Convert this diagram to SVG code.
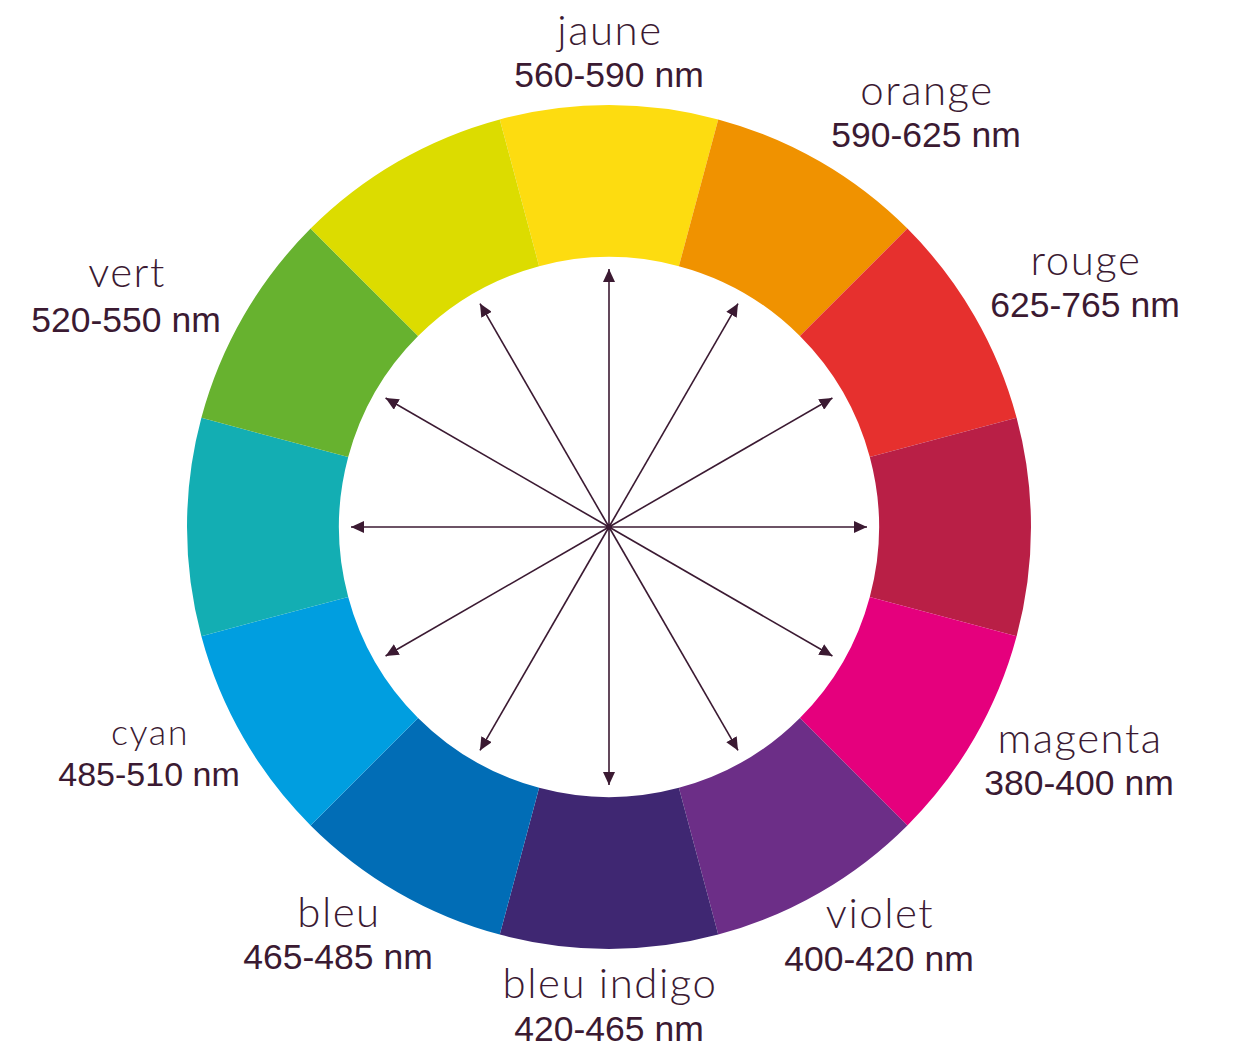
<svg xmlns="http://www.w3.org/2000/svg" width="1239" height="1055" viewBox="0 0 1239 1055">
<defs>
<style>
.seg{stroke:none}
.nm{font-family:Lato,"Open Sans","Liberation Sans",sans-serif;font-weight:300;font-size:42px;letter-spacing:1.5px;fill:#3b1a32;text-anchor:middle}
.wl{font-family:"Liberation Sans",Arial,sans-serif;font-weight:400;font-size:35.5px;fill:#3b1a32;text-anchor:middle}
.arr{stroke:#3b1a32;stroke-width:1.6;fill:none;marker-end:url(#ah)}
</style>
<marker id="ah" markerUnits="userSpaceOnUse" markerWidth="14" markerHeight="12" refX="13" refY="6" orient="auto">
<path d="M0,0 L13,6 L0,12 Z" fill="#3b1a32"/>
</marker>
</defs>
<rect width="1239" height="1055" fill="#ffffff"/>
<g id="jaune"><path class="seg" fill="#FDDC10" d="M499.78,119.38 A422,422 0 0 1 718.22,119.38 L678.88,266.20 A270,270 0 0 0 539.12,266.20 Z"/><text class="nm" x="610" y="45">jaune</text><text class="wl" x="609" y="87">560-590 nm</text></g>
<g id="orange"><path class="seg" fill="#F09200" d="M718.22,119.38 A422,422 0 0 1 907.40,228.60 L799.92,336.08 A270,270 0 0 0 678.88,266.20 Z"/><text class="nm" x="927" y="105">orange</text><text class="wl" x="926" y="147">590-625 nm</text></g>
<g id="rouge"><path class="seg" fill="#E6302E" d="M907.40,228.60 A422,422 0 0 1 1016.62,417.78 L869.80,457.12 A270,270 0 0 0 799.92,336.08 Z"/><text class="nm" x="1086" y="275">rouge</text><text class="wl" x="1085" y="317">625-765 nm</text></g>
<g id="carmin"><path class="seg" fill="#B91F46" d="M1016.62,417.78 A422,422 0 0 1 1016.62,636.22 L869.80,596.88 A270,270 0 0 0 869.80,457.12 Z"/></g>
<g id="magenta"><path class="seg" fill="#E5007D" d="M1016.62,636.22 A422,422 0 0 1 907.40,825.40 L799.92,717.92 A270,270 0 0 0 869.80,596.88 Z"/><text class="nm" x="1080" y="753">magenta</text><text class="wl" x="1079" y="795">380-400 nm</text></g>
<g id="violet"><path class="seg" fill="#6C2E87" d="M907.40,825.40 A422,422 0 0 1 718.22,934.62 L678.88,787.80 A270,270 0 0 0 799.92,717.92 Z"/><text class="nm" x="880" y="928">violet</text><text class="wl" x="879" y="971">400-420 nm</text></g>
<g id="bleu-indigo"><path class="seg" fill="#3F2772" d="M718.22,934.62 A422,422 0 0 1 499.78,934.62 L539.12,787.80 A270,270 0 0 0 678.88,787.80 Z"/><text class="nm" x="610" y="998">bleu indigo</text><text class="wl" x="609" y="1041">420-465 nm</text></g>
<g id="bleu"><path class="seg" fill="#016DB6" d="M499.78,934.62 A422,422 0 0 1 310.60,825.40 L418.08,717.92 A270,270 0 0 0 539.12,787.80 Z"/><text class="nm" x="339" y="927">bleu</text><text class="wl" x="338" y="969">465-485 nm</text></g>
<g id="cyan"><path class="seg" fill="#009EE0" d="M310.60,825.40 A422,422 0 0 1 201.38,636.22 L348.20,596.88 A270,270 0 0 0 418.08,717.92 Z"/><text class="nm" x="150" y="745" style="font-size:36px">cyan</text><text class="wl" x="149" y="786" style="font-size:34px">485-510 nm</text></g>
<g id="turquoise"><path class="seg" fill="#13AEB3" d="M201.38,636.22 A422,422 0 0 1 201.38,417.78 L348.20,457.12 A270,270 0 0 0 348.20,596.88 Z"/></g>
<g id="vert"><path class="seg" fill="#67B22F" d="M201.38,417.78 A422,422 0 0 1 310.60,228.60 L418.08,336.08 A270,270 0 0 0 348.20,457.12 Z"/><text class="nm" x="127" y="287">vert</text><text class="wl" x="126" y="332">520-550 nm</text></g>
<g id="jaune-vert"><path class="seg" fill="#DCDC00" d="M310.60,228.60 A422,422 0 0 1 499.78,119.38 L539.12,266.20 A270,270 0 0 0 418.08,336.08 Z"/></g>
<g id="connectors">
<path class="arr" d="M609,527 L609,269"/>
<path class="arr" d="M609,527 L738,303.57"/>
<path class="arr" d="M609,527 L832.43,398"/>
<path class="arr" d="M609,527 L867,527"/>
<path class="arr" d="M609,527 L832.43,656"/>
<path class="arr" d="M609,527 L738,750.43"/>
<path class="arr" d="M609,527 L609,785"/>
<path class="arr" d="M609,527 L480,750.43"/>
<path class="arr" d="M609,527 L385.57,656"/>
<path class="arr" d="M609,527 L351,527"/>
<path class="arr" d="M609,527 L385.57,398"/>
<path class="arr" d="M609,527 L480,303.57"/>
<circle cx="609" cy="527" r="3" fill="#3b1a32"/>
</g>
</svg>
